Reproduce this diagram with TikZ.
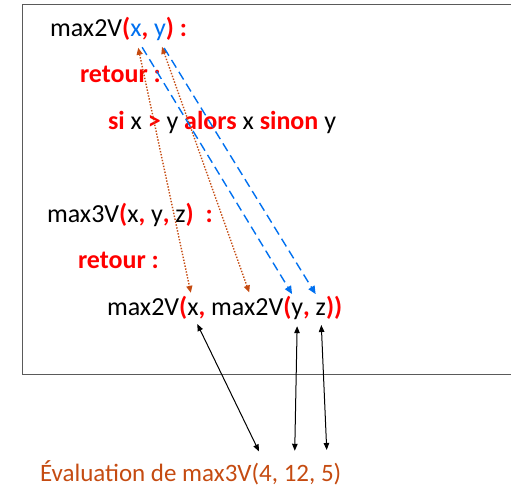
\documentclass[tikz,border=0pt]{standalone}
\usepackage{fontspec}
\setmainfont{Carlito}
\usetikzlibrary{arrows.meta}
\definecolor{kwRed}     {RGB}{255,  0,  0}
\definecolor{parBlue}   {RGB}{  0,112,240}
\definecolor{argRust}   {RGB}{197, 75, 17}
\definecolor{frameGray} {RGB}{ 90, 90, 90}
\newcommand{\kw}[1]{\textcolor{kwRed}{\bfseries #1}}
\tikzset{
  tok/.style={
    inner sep=0pt, outer sep=0pt, anchor=base west,
    font=\fontsize{26}{30}\selectfont
  },
  kwtok/.style={tok, text=kwRed, font=\fontsize{26}{30}\selectfont\bfseries},
  partok/.style={tok, text=parBlue},
  evaltok/.style={tok, text=argRust, font=\fontsize{25}{30}\selectfont},
  %% frame of the code area
  frame/.style={line width=1pt, draw=frameGray},
  %% parameter passing, outer call (dotted rust)
  arrR/.style={
    {Triangle[length=7pt,width=6pt]}-{Triangle[length=7pt,width=6pt]},
    line width=1.4pt, color=argRust, dash pattern=on 1.4pt off 1.6pt
  },
  %% parameter passing, inner call (dashed blue)
  arrB/.style={
    -{Triangle[length=8pt,width=7pt]},
    line width=1.4pt, color=parBlue, dash pattern=on 9pt off 5pt
  },
  %% evaluation links (thin black)
  arrE/.style={
    {Triangle[length=7pt,width=5.5pt]}-{Triangle[length=7pt,width=5.5pt]},
    line width=1pt, color=black
  }
}

\begin{document}
\begin{tikzpicture}[x=1pt, y=-1pt]
\useasboundingbox (0,0) rectangle (511,487);

%% frame (right side runs off the page)
\draw[frame] (515,5) -- (22,5) -- (22,374) -- (515,374);

%% max2V definition
\node[tok]    (f1)  at (50,37)       {max2V};
\node[kwtok]  (f1o) at (f1.base east)  {(};
\node[partok] (f1x) at (f1o.base east) {x};
\node[kwtok]  (f1c) at (f1x.base east) {,\ \null};
\node[partok] (f1y) at (f1c.base east) {y};
\node[kwtok]  (f1e) at (f1y.base east) {)\ :};

\node[kwtok] (ret1) at (80,82) {retour :};
\node[tok] (cond) at (108,129) {\kw{si} x \kw{>} y \kw{alors} x \kw{sinon} y};

%% max3V definition
\node[tok] (g1) at (47,222) {max3V\kw{(}x\kw{,} y\kw{,} z\kw{)}\ \ \kw{:}};
\node[kwtok] (ret2) at (78,268) {retour :};

%% nested call
\node[tok]   (c1)  at (107,315)      {max2V};
\node[kwtok] (c1o) at (c1.base east)  {(};
\node[tok]   (c1x) at (c1o.base east) {x};
\node[kwtok] (c1c) at (c1x.base east) {,\ \null};
\node[tok]   (c1m) at (c1c.base east) {max2V};
\node[kwtok] (c1p) at (c1m.base east) {(};
\node[tok]   (c1y) at (c1p.base east) {y};
\node[kwtok] (c1d) at (c1y.base east) {,\ \null};
\node[tok]   (c1z) at (c1d.base east) {z};
\node[kwtok] (c1e) at (c1z.base east) {))};

%% evaluation line
\node[evaltok] (ev)   at (40,481)       {Évaluation de max3V(};
\node[evaltok] (e4)   at (ev.base east)   {4};
\node[evaltok] (evc1) at (e4.base east)   {,\ \null};
\node[evaltok] (e12)  at (evc1.base east) {12};
\node[evaltok] (evc2) at (e12.base east)  {,\ \null};
\node[evaltok] (e5)   at (evc2.base east) {5};
\node[evaltok] (eve)  at (e5.base east)   {)};

%% outer call: x -> x, y -> max2V(y, z)
\draw[arrR, shorten <=11pt, shorten >=10pt] (f1x.south) -- (c1x.north);
\draw[arrR, shorten <=6pt,  shorten >=6pt]  (f1y.south) -- ([xshift=4pt]c1m.north);

%% inner call: x -> y, y -> z
\draw[arrB, shorten <=12pt, shorten >=10pt] (f1x.south) -- (c1y.north);
\draw[arrB, shorten <=8pt,  shorten >=10pt] (f1y.south) -- (c1z.north);

%% actual values
\draw[arrE, shorten <=10pt, shorten >=15pt] (c1x.south) -- (e4.north);
\draw[arrE, shorten <=7pt,  shorten >=14pt] (c1y.south) -- ([xshift=-2pt]e12.north);
\draw[arrE, shorten <=10pt, shorten >=15pt] (c1z.south) -- (e5.north);

\end{tikzpicture}
\end{document}
